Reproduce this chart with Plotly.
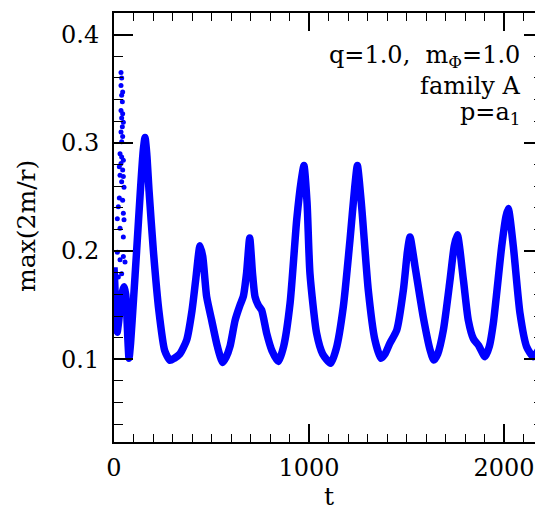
import plotly.graph_objects as go

# main smooth curve (t, max(2m/r))
t_curve = [0, 4, 8, 12, 16, 24, 34, 44, 52, 60, 66, 72, 77, 85, 100, 116, 135, 150, 159, 168,
           180, 202, 230, 260, 287, 310, 338, 373, 400, 420, 441, 455, 475, 501, 530, 557, 575,
           595, 621, 646, 663, 680, 696, 710, 723, 740, 757, 783, 810, 843, 870, 903, 937, 960,
           974, 990, 1005, 1039, 1070, 1111, 1140, 1176, 1210, 1235, 1248, 1270, 1304, 1338,
           1369, 1390, 1415, 1450, 1484, 1505, 1518, 1544, 1586, 1621, 1640, 1660, 1689, 1723,
           1745, 1761, 1792, 1817, 1843, 1869, 1903, 1925, 1945, 1988, 2010, 2022, 2048, 2082,
           2116, 2150, 2175, 2200]
v_curve = [0.185, 0.170, 0.150, 0.130, 0.125, 0.135, 0.152, 0.163, 0.167, 0.160, 0.140, 0.115,
           0.101, 0.115, 0.155, 0.200, 0.255, 0.293, 0.305, 0.290, 0.255, 0.200, 0.145, 0.108,
           0.099, 0.101, 0.105, 0.118, 0.145, 0.175, 0.205, 0.195, 0.158, 0.136, 0.112, 0.097,
           0.102, 0.112, 0.136, 0.150, 0.158, 0.180, 0.212, 0.180, 0.158, 0.150, 0.1455, 0.124,
           0.108, 0.098, 0.112, 0.152, 0.229, 0.265, 0.279, 0.245, 0.179, 0.124, 0.105, 0.0963,
           0.110, 0.1486, 0.210, 0.260, 0.279, 0.241, 0.164, 0.118, 0.101, 0.105, 0.115, 0.127,
           0.164, 0.200, 0.213, 0.1855, 0.139, 0.1086, 0.0994, 0.105, 0.127, 0.173, 0.205, 0.215,
           0.173, 0.136, 0.119, 0.113, 0.1024, 0.112, 0.133, 0.204, 0.232, 0.2394, 0.204, 0.1425,
           0.1116, 0.1024, 0.108, 0.121]

# sparse early-time points
t_scatter = [35.9, 39.3, 35.9, 44.4, 39.3, 42.7, 35.9, 44.4, 39.3, 47.9, 42.7, 35.9, 44.4, 39.3,
             30.8, 39.3, 47.9, 35.9, 27.4, 44.4, 30.8, 47.9, 39.3, 51.3, 27.4, 44.4, 22.2, 47.9,
             17.1, 51.3, 30.8, 47.9, 17.1, 47.9, 30.8, 56.4, 22.2, 39.3, 13.7, 30.8]
v_scatter = [0.365, 0.360, 0.353, 0.347, 0.344, 0.338, 0.330, 0.327, 0.323, 0.319, 0.315, 0.310,
             0.306, 0.301, 0.290, 0.287, 0.284, 0.281, 0.278, 0.275, 0.270, 0.269, 0.264, 0.259,
             0.249, 0.247, 0.241, 0.235, 0.230, 0.229, 0.221, 0.213, 0.199, 0.195, 0.192, 0.190,
             0.176, 0.179, 0.161, 0.155]

x_range = [0, 2200]
y_range = [0.0236, 0.42]
x_ticks = [0, 1000, 2000]
y_ticks = [0.1, 0.2, 0.3, 0.4]

FONT = "DejaVu Serif"
BLUE = "#0000ff"

fig = go.Figure()
fig.add_trace(go.Scatter(x=t_curve, y=v_curve, mode="lines",
                         line=dict(color=BLUE, width=7.5, shape="spline", smoothing=0.6),
                         showlegend=False))
fig.add_trace(go.Scatter(x=t_scatter, y=v_scatter, mode="markers",
                         marker=dict(color=BLUE, size=5), showlegend=False))
fig.add_trace(go.Scatter(x=[None], y=[None], yaxis="y2", showlegend=False))

tickfont = dict(family=FONT, size=24, color="black")
# page body has an 8px margin, so the figure is 8px smaller than the window
fig.update_layout(
    width=535, height=503,
    margin=dict(l=106, r=0, t=5, b=69),
    paper_bgcolor="white", plot_bgcolor="white",
    font=dict(family=FONT, color="black"),
    xaxis=dict(range=x_range, tickvals=x_ticks, ticks="inside", ticklen=18, tickwidth=1.5,
               tickcolor="black", showline=True, linecolor="black", linewidth=2,
               mirror="ticks", showgrid=False, zeroline=False, tickfont=tickfont,
               automargin=False, ticklabelstandoff=3,
               minor=dict(dtick=100, ticks="inside", ticklen=8, tickwidth=1.2,
                          tickcolor="black", showgrid=False)),
    yaxis=dict(range=y_range, tickvals=y_ticks, ticks="inside", ticklen=19, tickwidth=1.5,
               tickcolor="black", showline=True, linecolor="black", linewidth=2,
               mirror=False, showgrid=False, zeroline=False, tickfont=tickfont,
               tickformat=".1f", automargin=False, ticklabelstandoff=8,
               minor=dict(tick0=0, dtick=0.02, ticks="inside", ticklen=9, tickwidth=1.2,
                          tickcolor="black", showgrid=False)),
    yaxis2=dict(range=y_range, overlaying="y", side="right", anchor="x",
                tickvals=y_ticks, ticks="inside", ticklen=19, tickwidth=1.5,
                tickcolor="black", showline=False, showgrid=False, zeroline=False,
                showticklabels=False, automargin=False,
                minor=dict(tick0=0, dtick=0.02, ticks="inside", ticklen=9, tickwidth=1.2,
                           tickcolor="black", showgrid=False)),
)

# axis titles
fig.add_annotation(text="t", xref="paper", yref="paper", x=0.501, y=-0.128,
                   xanchor="center", yanchor="middle", showarrow=False,
                   font=dict(family=FONT, size=25, color="black"))
fig.add_annotation(text="max(2m/r)", xref="paper", yref="paper", x=-0.203, y=0.5035,
                   xanchor="center", yanchor="middle", showarrow=False, textangle=-90,
                   font=dict(family=FONT, size=25, color="black"))

ann_font = dict(family=FONT, size=24, color="black")
for txt, yp in [("q=1.0,  m<sub>Φ</sub>=1.0", 0.898),
                ("family A", 0.831),
                ("p=a<sub>1</sub>", 0.766)]:
    fig.add_annotation(text=txt, xref="paper", yref="paper", x=0.952, y=yp,
                       xanchor="right", yanchor="middle", showarrow=False, font=ann_font)

fig.write_html("out.html")
